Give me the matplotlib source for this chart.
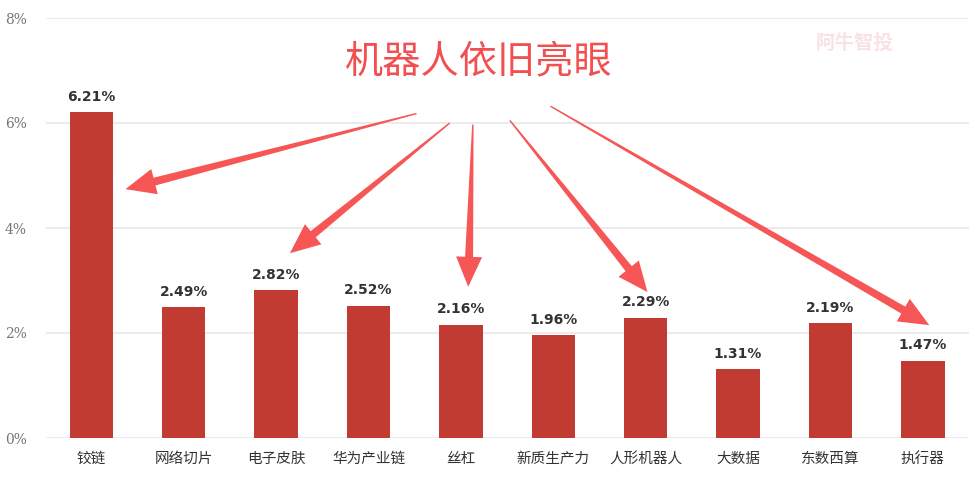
import matplotlib.pyplot as plt
import numpy as np
from matplotlib.patches import Polygon

plt.rcParams['font.family'] = ['Noto Sans CJK SC', 'DejaVu Sans']

categories = ['铰链', '网络切片', '电子皮肤', '华为产业链', '丝杠', '新质生产力',
              '人形机器人', '大数据', '东数西算', '执行器']
values = [6.21, 2.49, 2.82, 2.52, 2.16, 1.96, 2.29, 1.31, 2.19, 1.47]

# arrows: (start x, start y) -> (end x, end y) in data units
arrow_starts = [(3.52, 6.18), (3.88, 6.0), (4.13, 5.97), (4.53, 6.05), (4.97, 6.32)]
arrow_ends = [(0.37, 4.74), (2.15, 3.52), (4.08, 2.88), (6.02, 2.78), (9.07, 2.15)]

bar_color = '#c23b33'
arrow_color = '#f65656'

fig = plt.figure(figsize=(9.69, 4.79), dpi=100)
ax = fig.add_axes([46 / 969, 41 / 479, 923 / 969, 420 / 479])

x = np.arange(len(categories))
ax.bar(x, values, width=0.47, color=bar_color, zorder=2)
for xi, v in zip(x, values):
    ax.text(xi, v + 0.16, f'{v:.2f}%', ha='center', va='bottom',
            fontsize=10, fontweight='bold', color='#333333', family='DejaVu Sans')

ax.set_xlim(-0.49, 9.5)
ax.set_ylim(0, 8)
ax.set_yticks([0, 2, 4, 6, 8])
ax.set_yticklabels(['0%', '2%', '4%', '6%', '8%'], color='#777777', fontsize=10,
                   family='DejaVu Serif')
ax.set_xticks(x)
ax.set_xticklabels(categories, fontsize=10.5, color='#333333')
ax.tick_params(length=0)
ax.tick_params(axis='x', pad=10)
ax.tick_params(axis='y', pad=14)
ax.grid(axis='y', color='#e8e8e8', linewidth=1.2, zorder=0)
for s in ax.spines.values():
    s.set_visible(False)
ax.set_axisbelow(True)

fig.text(479 / 969, 1 - 62 / 479, '机器人依旧亮眼', ha='center', va='center',
         fontsize=27.5, color='#f25050')
fig.text(855 / 969, 1 - 43 / 479, '阿牛智投', ha='center', va='center',
         fontsize=14, color='#f9e2e2', fontweight='bold')


def tapered_arrow(p0, p1):
    a = ax.transData.transform(p0)
    b = ax.transData.transform(p1)
    d = b - a
    L = np.hypot(*d)
    u = d / L
    n = np.array([-u[1], u[0]])
    head_len = 30
    head_w = 13
    tail_w = 0.7
    shaft_w = 4.0
    hb = b - u * head_len
    pts = [a + n * tail_w, hb + n * shaft_w, hb + n * head_w, b,
           hb - n * head_w, hb - n * shaft_w, a - n * tail_w]
    pts = ax.transData.inverted().transform(np.array(pts))
    ax.add_patch(Polygon(pts, closed=True, color=arrow_color, zorder=5,
                         clip_on=False, linewidth=0))


for p0, p1 in zip(arrow_starts, arrow_ends):
    tapered_arrow(p0, p1)

fig.savefig('out.png', dpi=100)
